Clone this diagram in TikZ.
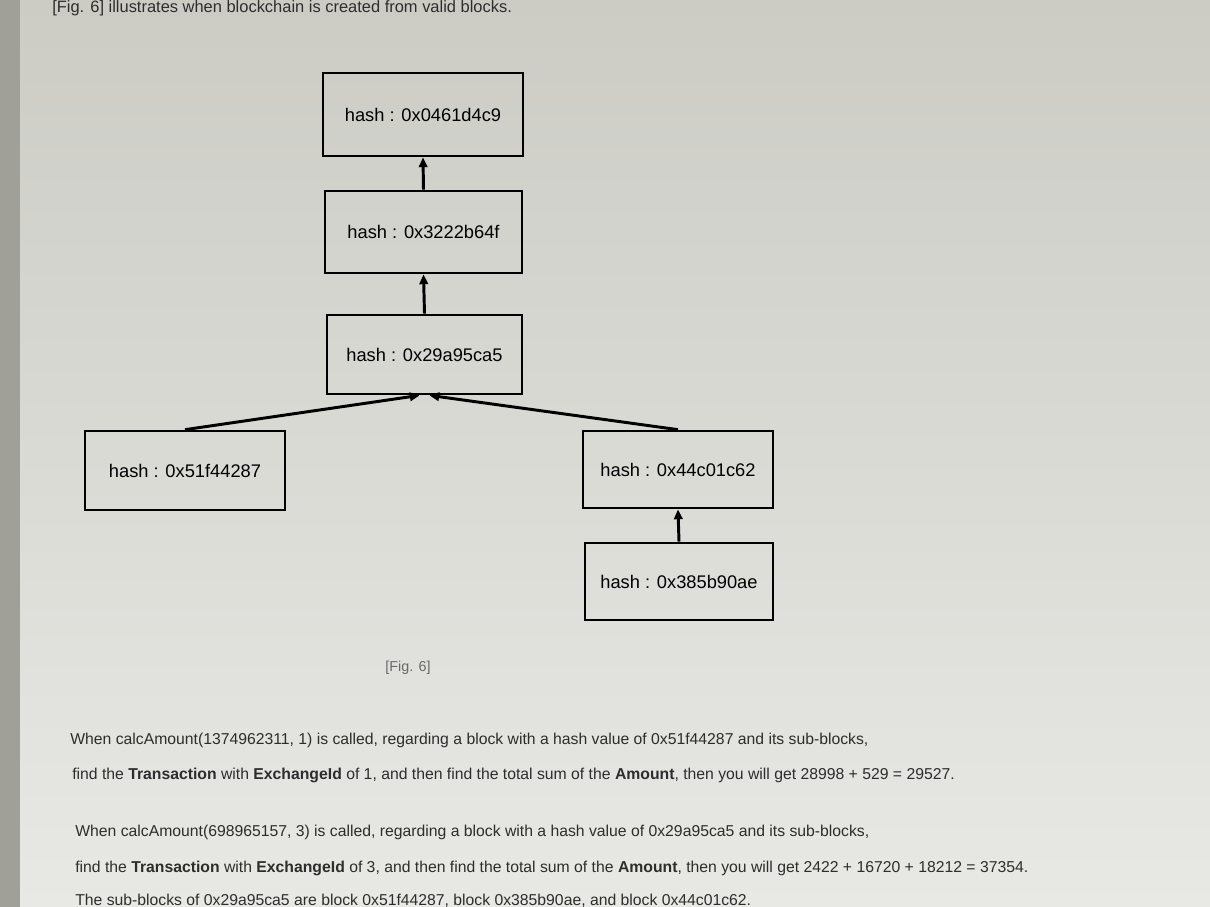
\documentclass[tikz,border=0pt]{standalone}
\usepackage{fontspec}
\setmainfont{Liberation Sans}
\usetikzlibrary{arrows.meta}
\definecolor{bgtop}{RGB}{204,204,197}
\definecolor{bgbot}{RGB}{232,232,229}
\definecolor{strip}{RGB}{160,160,152}
\definecolor{txt}{RGB}{45,45,45}
\definecolor{capt}{RGB}{105,105,105}
\tikzset{
  blk/.style={draw=black, line width=1.9pt, fill=none, inner sep=0pt, font=\fontsize{13}{15}\selectfont, text=black},
  arr/.style={line width=2.1pt, -{Triangle[length=7pt,width=6pt]}},
  para/.style={anchor=west, inner sep=0pt, text=txt, font=\fontsize{11.2}{13}\selectfont}
}
\begin{document}
\begin{tikzpicture}[x=0.025cm,y=-0.025cm]
\useasboundingbox (0,0) rectangle (1210,907);
\shade[top color=bgtop, bottom color=bgbot] (0,0) rectangle (1210,907);
\fill[strip] (0,0) rectangle (20,907);

\node[para, font=\fontsize{11.7}{13}\selectfont] (title) at (52,8) {[Fig. 6] illustrates when blockchain is created from valid blocks.};

\node[blk, minimum width=5.0cm, minimum height=2.075cm] (b1) at (423,114.5) {hash : 0x0461d4c9};
\node[blk, minimum width=4.925cm, minimum height=2.05cm] (b2) at (423.5,232) {hash : 0x3222b64f};
\node[blk, minimum width=4.875cm, minimum height=1.975cm] (b3) at (424.5,354.5) {hash : 0x29a95ca5};
\node[blk, minimum width=5.0cm, minimum height=1.975cm] (b4) at (185,470.5) {hash : 0x51f44287};
\node[blk, minimum width=4.75cm, minimum height=1.925cm] (b5) at (678,469.5) {hash : 0x44c01c62};
\node[blk, minimum width=4.7cm, minimum height=1.925cm] (b6) at (679,581.5) {hash : 0x385b90ae};

\draw[arr] (b2.north) -- (b1.south);
\draw[arr] (b3.north) -- (b2.south);
\draw[arr] (b4.north) -- ([xshift=-0.12cm]b3.south);
\draw[arr] (b5.north) -- ([xshift=0.12cm]b3.south);
\draw[arr] (b6.north) -- (b5.south);

\node[anchor=center, inner sep=0pt, text=capt, font=\fontsize{10.2}{12}\selectfont] (cap) at (408,668) {[Fig. 6]};

\node[para] (l1) at (70,740) {When calcAmount(1374962311, 1) is called, regarding a block with a hash value of 0x51f44287 and its sub-blocks,};
\node[para] (l2) at (72,775) {find the \textbf{Transaction} with \textbf{ExchangeId} of 1, and then find the total sum of the \textbf{Amount}, then you will get 28998 + 529 = 29527.};
\node[para] (l3) at (75,832) {When calcAmount(698965157, 3) is called, regarding a block with a hash value of 0x29a95ca5 and its sub-blocks,};
\node[para] (l4) at (75,868) {find the \textbf{Transaction} with \textbf{ExchangeId} of 3, and then find the total sum of the \textbf{Amount}, then you will get 2422 + 16720 + 18212 = 37354.};
\node[para] (l5) at (75,901) {The sub-blocks of 0x29a95ca5 are block 0x51f44287, block 0x385b90ae, and block 0x44c01c62.};
\end{tikzpicture}
\end{document}
